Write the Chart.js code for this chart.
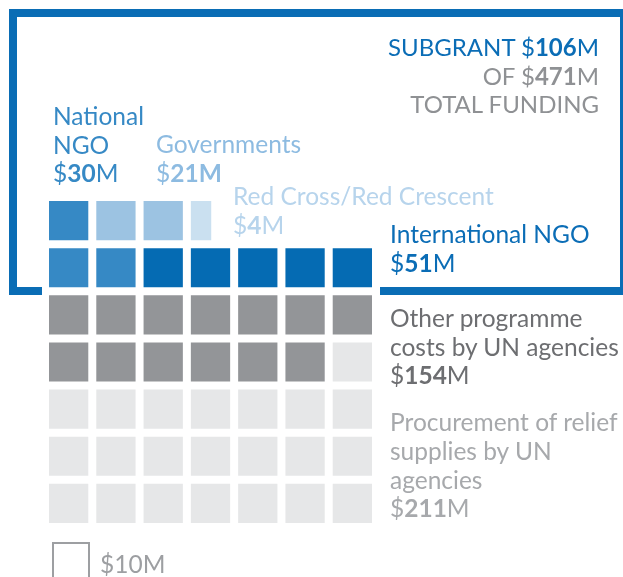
<!DOCTYPE html>
<html>
<head>
<meta charset="utf-8">
<script src="https://cdn.jsdelivr.net/npm/chart.js@4.4.1/dist/chart.umd.min.js"></script>
<style>
  html, body { margin: 0; padding: 0; background: #fff; }
  #wrap { position: relative; width: 623px; height: 577px; overflow: hidden; font-family: 'Lato', 'Noto Sans', sans-serif; }
  #frame { position: absolute; left: 9px; top: 9px; width: 619px; height: 286px; box-sizing: border-box; border: 8px solid #0a6db5; }
  #chartBox { position: absolute; left: 0; top: 0; width: 623px; height: 577px; }
  .lbl { position: absolute; font-size: 24.5px; font-weight: 400; line-height: 28.5px; white-space: nowrap; }
  .lbl b { font-weight: 700; }
  #unit { position: absolute; left: 52px; top: 542px; width: 38px; height: 40px; box-sizing: border-box; border: 2px solid #9d9fa2; }
</style>
</head>
<body>
<div id="wrap">
  <div id="frame"></div>
  <div id="chartBox"><canvas id="waffle"></canvas></div>

  <div class="lbl" style="right:24px; top:33px; text-align:right; font-size:24px;">
    <span style="color:#0b6db6">SUBGRANT $<b>106</b>M</span><br>
    <span style="color:#8f9194">OF $<b>471</b>M</span><br>
    <span style="color:#8f9194">TOTAL FUNDING</span>
  </div>
  <div class="lbl" style="left:53px; top:102px; color:#3689c5;">National<br>NGO<br>$<b>30</b>M</div>
  <div class="lbl" style="left:156px; top:130px; color:#8dbbe1;">Governments<br>$<b>21M</b></div>
  <div class="lbl" style="left:233px; top:182px; color:#b7d4ec;">Red Cross/Red Crescent<br>$<b>4</b>M</div>
  <div class="lbl" style="left:390px; top:220px; color:#0b6db6;">International NGO<br>$<b>51</b>M</div>
  <div class="lbl" style="left:390px; top:304px; color:#6d6e71;">Other programme<br>costs by UN agencies<br>$<b>154</b>M</div>
  <div class="lbl" style="left:390px; top:408px; color:#a7a9ac; line-height:28.8px;">Procurement of relief<br>supplies by UN<br>agencies<br>$<b>211</b>M</div>

  <div id="unit"></div>
  <div class="lbl" style="left:100px; top:550px; color:#9d9fa2;">$10M</div>
</div>

<script>
// funding groups, $M
const categories = ['National NGO', 'Governments', 'Red Cross/Red Crescent', 'International NGO',
  'Other programme costs by UN agencies', 'Procurement of relief supplies by UN agencies'];
const amounts = [30, 21, 4, 51, 154, 211];
const catColors = ['#3689c5', '#9cc3e2', '#cae0f0', '#056bb3', '#939598', '#e6e7e8'];

// one square = $10M, rows top to bottom, value = group index
const rowLabels = ['r1', 'r2', 'r3', 'r4', 'r5', 'r6', 'r7'];
const cellGroup = [
  [0, 1, 1, 2],
  [0, 0, 3, 3, 3, 3, 3],
  [4, 4, 4, 4, 4, 4, 4],
  [4, 4, 4, 4, 4, 4, 5],
  [5, 5, 5, 5, 5, 5, 5],
  [5, 5, 5, 5, 5, 5, 5],
  [5, 5, 5, 5, 5, 5, 5],
];
// share of a full square each cell shows
const cellShare = [
  [1, 1, 1, 0.6],
  [1, 1, 1, 1, 1, 1, 1],
  [1, 1, 1, 1, 1, 1, 1],
  [1, 1, 1, 1, 1, 1, 1],
  [1, 1, 1, 1, 1, 1, 1],
  [1, 1, 1, 1, 1, 1, 1],
  [1, 1, 1, 1, 1, 1, 1],
];
const maxCols = 7;

const datasets = [];
for (let k = 0; k < maxCols; k++) {
  datasets.push({
    label: 'col' + k,
    data: cellShare.map(row => (row[k] === undefined ? null : row[k])),
    backgroundColor: cellGroup.map(row => (row[k] === undefined ? 'rgba(0,0,0,0)' : catColors[row[k]])),
    borderColor: '#ffffff',
    borderWidth: 4,
    borderSkipped: false,
    inflateAmount: 0,
    barPercentage: 1,
    categoryPercentage: 1,
  });
}

// white backdrop behind the grid, it cuts the blue frame
const gridBackdrop = {
  id: 'gridBackdrop',
  beforeDatasetsDraw(chart) {
    const { ctx, chartArea } = chart;
    ctx.save();
    ctx.fillStyle = '#ffffff';
    ctx.fillRect(chartArea.left - 3, chartArea.top, chartArea.right - chartArea.left + 7, chartArea.bottom - chartArea.top);
    ctx.restore();
  }
};

new Chart(document.getElementById('waffle').getContext('2d'), {
  type: 'bar',
  data: { labels: rowLabels, datasets: datasets },
  options: {
    indexAxis: 'y',
    responsive: true,
    maintainAspectRatio: false,
    animation: false,
    layout: { padding: { left: 45, top: 197, right: 247, bottom: 50 } },
    scales: {
      x: { stacked: true, min: 0, max: maxCols, display: false },
      y: { stacked: true, display: false },
    },
    plugins: {
      legend: { display: false },
      tooltip: { enabled: false },
    },
  },
  plugins: [gridBackdrop],
});
</script>
</body>
</html>
